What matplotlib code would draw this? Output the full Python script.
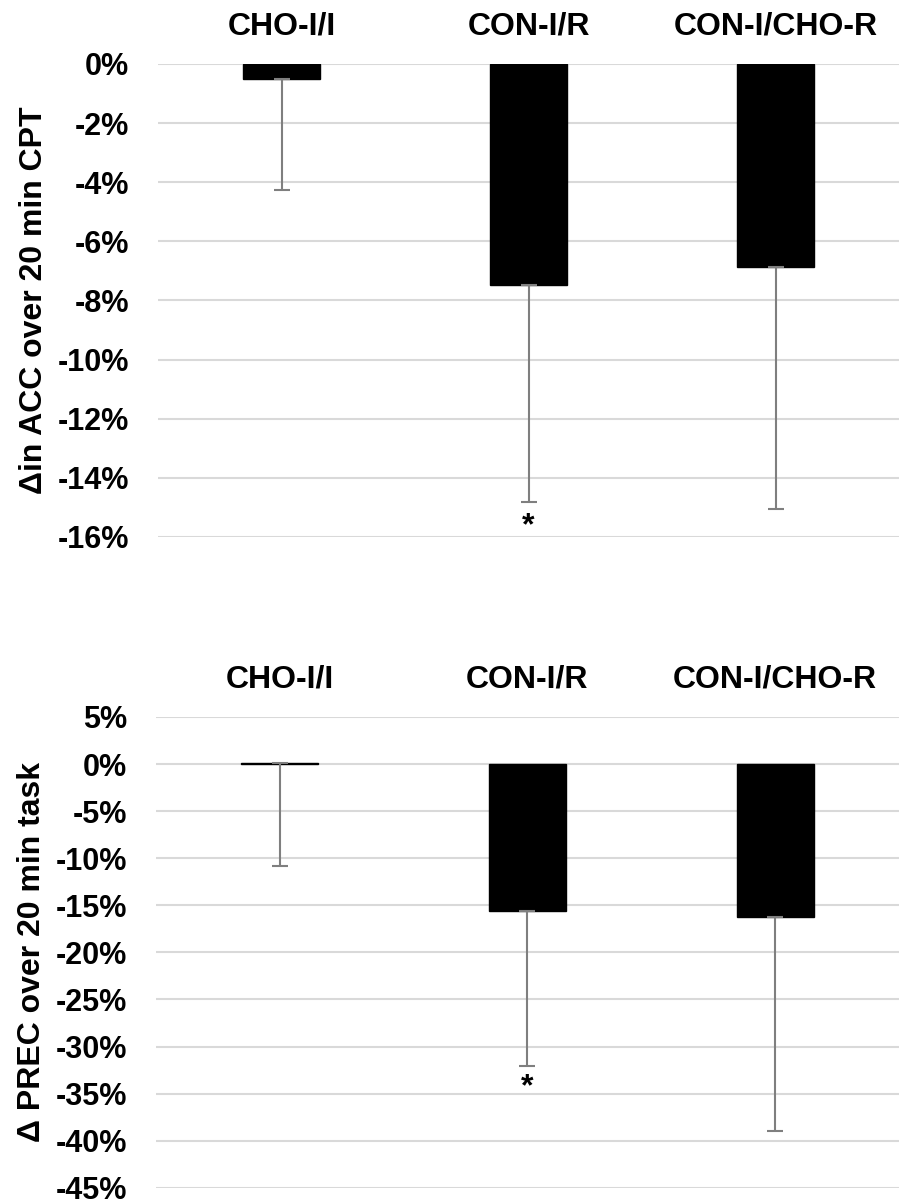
import numpy as np
import matplotlib.pyplot as plt

plt.rcParams['font.family'] = ['Liberation Sans', 'DejaVu Sans']
plt.rcParams['font.weight'] = 'bold'

# groups, shown as column headers above the bars
groups = ['CHO-I/I', 'CON-I/R', 'CON-I/CHO-R']

# change in accuracy over 20 min CPT (%), with lower error
acc_mean = [-0.5, -7.48, -6.87]
acc_err = [3.76, 7.32, 8.18]
acc_ticks = [0, -2, -4, -6, -8, -10, -12, -14, -16]

# change in precision over 20 min task (%), with lower error
prec_mean = [0.15, -15.6, -16.2]
prec_err = [10.95, 16.5, 22.8]
prec_ticks = [5, 0, -5, -10, -15, -20, -25, -30, -35, -40, -45]

# significance marks
sig = ['', '*', '']

fig = plt.figure(figsize=(8.99, 12.04), dpi=100)
ax1 = fig.add_axes([0.1758, 0.554, 0.8242, 0.3929])
ax2 = fig.add_axes([0.1735, 0.0135, 0.8265, 0.391])


def draw(ax, means, errs, ticks, ylabel, star_y):
    x = np.arange(len(groups))
    lower = np.array(errs)
    ax.bar(x, means, width=0.31, color='black', edgecolor='black', zorder=3)
    ax.errorbar(x, means, yerr=[lower, np.zeros_like(lower)], fmt='none',
                ecolor='#7f7f7f', elinewidth=1.5, capsize=5.5, capthick=1.5, zorder=4)
    ax.set_xlim(-0.5, len(groups) - 0.5)
    ax.set_ylim(min(ticks), max(ticks))
    ax.set_yticks(ticks)
    ax.set_yticklabels([f'{t}%' for t in ticks], fontsize=22, fontweight='bold')
    ax.yaxis.grid(True, color='#d9d9d9', linewidth=1.5, zorder=0)
    ax.set_axisbelow(True)
    ax.tick_params(axis='y', length=0, pad=21)
    ax.xaxis.tick_top()
    ax.set_xticks(x)
    ax.set_xticklabels(groups, fontsize=23, fontweight='bold')
    ax.tick_params(axis='x', length=0, pad=16)
    for s in ax.spines.values():
        s.set_visible(False)
    ax.set_ylabel(ylabel, fontsize=23, fontweight='bold')
    ax.yaxis.set_label_coords(-0.147, 0.5)
    for i, m in enumerate(sig):
        if m:
            ax.text(x[i], star_y, m, ha='center', va='center', fontsize=23,
                    fontweight='bold')


draw(ax1, acc_mean, acc_err, acc_ticks, 'Δin ACC over 20 min CPT', -15.65)
draw(ax2, prec_mean, prec_err, prec_ticks, 'Δ PREC over 20 min task', -34.3)

fig.savefig('out.png', dpi=100)
